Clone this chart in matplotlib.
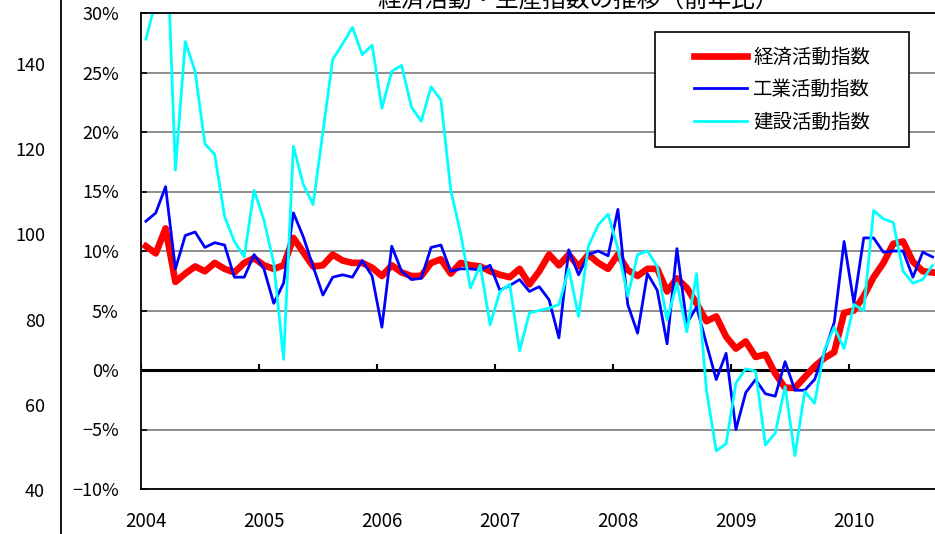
import numpy as np
import matplotlib.pyplot as plt
from matplotlib.patches import Rectangle
from matplotlib.transforms import ScaledTranslation

plt.rcParams['font.family'] = ['Noto Sans CJK JP', 'DejaVu Sans']

# variazioni % sull'anno precedente, mensili da gen 2004 a set 2010
keizai = [10.4, 9.8, 11.9, 7.4, 8.1, 8.7, 8.3, 9.0, 8.5, 8.2, 9.0, 9.4,
          8.8, 8.5, 8.8, 11.1, 9.9, 8.7, 8.8, 9.7, 9.2, 9.0, 9.0, 8.6,
          7.9, 8.8, 8.2, 7.9, 7.9, 9.0, 9.3, 8.1, 9.0, 8.8, 8.7, 8.3,
          8.0, 7.8, 8.5, 7.2, 8.3, 9.7, 8.8, 9.7, 8.7, 9.7, 9.0, 8.5,
          9.7, 8.4, 7.9, 8.5, 8.5, 6.6, 7.7, 6.9, 5.6, 4.1, 4.5, 2.8,
          1.8, 2.4, 1.1, 1.3, -0.3, -1.5, -1.5, -0.6, 0.3, 1.0, 1.5, 4.8,
          5.0, 6.2, 7.8, 9.0, 10.6, 10.8, 9.1, 8.3, 8.2]
kogyo = [12.5, 13.2, 15.4, 8.5, 11.3, 11.6, 10.3, 10.7, 10.5, 7.8, 7.8, 9.7,
         8.5, 5.6, 7.3, 13.2, 11.2, 8.7, 6.3, 7.8, 8.0, 7.8, 9.2, 7.9,
         3.6, 10.4, 8.3, 7.6, 7.7, 10.3, 10.5, 8.3, 8.5, 8.5, 8.4, 8.8,
         6.7, 7.1, 7.6, 6.6, 7.0, 5.9, 2.7, 10.1, 8.0, 9.7, 10.0, 9.6,
         13.5, 5.5, 3.1, 8.1, 6.7, 2.2, 10.2, 3.9, 5.3, 2.2, -0.8, 1.4,
         -5.0, -1.9, -0.8, -2.0, -2.2, 0.7, -1.7, -1.7, -0.8, 1.5, 4.0, 10.8,
         5.6, 11.1, 11.1, 9.9, 10.0, 10.0, 7.8, 9.9, 9.5]
kensetsu = [27.8, 31.0, 39.0, 16.8, 27.6, 25.1, 19.0, 18.1, 12.9, 10.8, 9.5, 15.1,
            12.6, 9.0, 0.9, 18.8, 15.6, 13.9, 20.0, 26.1, 27.4, 28.8, 26.5, 27.3,
            22.0, 25.1, 25.6, 22.1, 20.9, 23.8, 22.7, 15.1, 11.5, 6.9, 8.8, 3.8,
            6.6, 7.2, 1.6, 4.8, 5.0, 5.2, 5.5, 8.5, 4.5, 10.4, 12.2, 13.1,
            10.2, 6.2, 9.7, 10.0, 8.7, 4.2, 7.3, 3.2, 8.1, -1.7, -6.8, -6.2,
            -1.1, 0.1, -0.1, -6.3, -5.3, -1.4, -7.2, -1.8, -2.8, 1.7, 3.6, 1.8,
            5.5, 5.0, 13.4, 12.7, 12.4, 8.3, 7.3, 7.6, 8.8]
nomi = ['経済活動指数', '工業活動指数', '建設活動指数']
anni = [2004, 2005, 2006, 2007, 2008, 2009, 2010]
tick_pct = [-10, -5, 0, 5, 10, 15, 20, 25, 30]
tick_indice = [40, 60, 80, 100, 120, 140]
titolo = '経済活動・生産指数の推移（前年比）'

# punto a metà mese
mesi = 2004 + (np.arange(len(keizai)) + 0.5) / 12

W, H = 935, 534
fig = plt.figure(figsize=(W / 100, H / 100), dpi=100)
fig.set_facecolor('white')

# asse esterno (indice), resto di un altro grafico
ax0 = fig.add_axes([61 / W, 0, 0.02, 1])
ax0.set_ylim(29.67, 155.0)
ax0.set_yticks(tick_indice)
ax0.tick_params(axis='y', length=0, pad=11.5, labelsize=13)
ax0.set_xticks([])
for s in ['top', 'right', 'bottom']:
    ax0.spines[s].set_visible(False)
ax0.spines['left'].set_linewidth(1.3)
ax0.patch.set_alpha(0)

# grafico principale
ax = fig.add_axes([141 / W, 45 / H, 794 / W, 476 / H])
ax.set_xlim(2004, 2004 + 794 / 118)
ax.set_ylim(-10, 30)

ax.plot(mesi, keizai, color='#FF0000', lw=4.8, label=nomi[0])
ax.plot(mesi, kogyo, color='#0000FF', lw=2.0, label=nomi[1])
ax.plot(mesi, kensetsu, color='#00FFFF', lw=2.0, label=nomi[2])

ax.set_yticks(tick_pct)
ax.set_yticklabels([(str(v) if v >= 0 else '\u2212' + str(-v)) + '%' for v in tick_pct])
ax.yaxis.grid(True, color='#7a7a7a', lw=1.2)
ax.set_axisbelow(True)
ax.tick_params(axis='y', direction='in', length=4, width=1.2, pad=16, labelsize=13)

ax.axhline(0, color='black', lw=2.2, zorder=1.5)
ax.vlines(anni, 0, 0.5, color='black', lw=1.5, zorder=1.5)

ax.set_xticks(anni)
ax.set_xticklabels([str(a) for a in anni])
ax.tick_params(axis='x', length=0, pad=15.5, labelsize=13.5)
for lab in ax.get_xticklabels():
    lab.set_transform(lab.get_transform() + ScaledTranslation(5 / 100, 0, fig.dpi_scale_trans))

ax.spines['right'].set_visible(False)
for s in ['left', 'top', 'bottom']:
    ax.spines[s].set_linewidth(1.3)

# riquadro legenda
ax.add_patch(Rectangle(((655 - 141) / 794, (489 - 147) / 476), 254 / 794, 115 / 476,
                       transform=ax.transAxes, facecolor='white', edgecolor='black',
                       lw=1.2, zorder=4))
ax.legend(loc='center', bbox_to_anchor=((782 - 141) / 794, (489 - 89.5) / 476),
          frameon=False, borderpad=0, fontsize=14, handlelength=2.75,
          handletextpad=0.3, labelspacing=0.6)

# titolo tagliato in alto, come nell'originale
fig.text(578 / W, 1 - 7 / H, titolo, ha='center', va='baseline', fontsize=17)

plt.savefig('out.png', dpi=100)
